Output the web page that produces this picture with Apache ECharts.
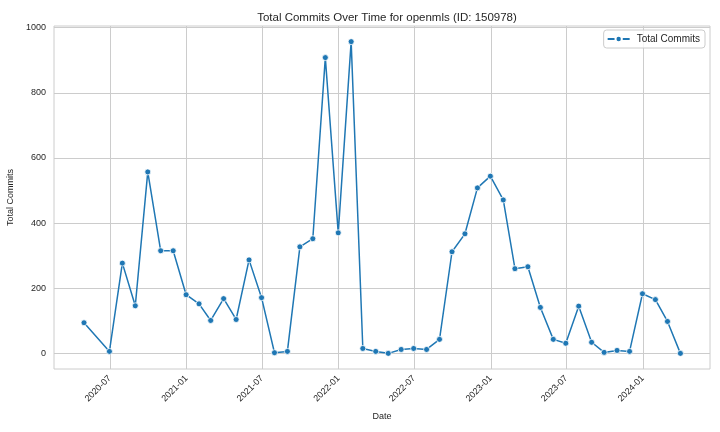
<!DOCTYPE html>
<html>
<head>
<meta charset="utf-8">
<script src="https://cdn.jsdelivr.net/npm/echarts@6/dist/echarts.min.js"></script>
<style>
html, body { margin: 0; padding: 0; background: #fff; }
#main { width: 720px; height: 432px; }
</style>
</head>
<body>
<div id="main"></div>
<script>
// 月末日期
var dates = [
	'2020-04-30', '2020-06-30', '2020-07-31', '2020-08-31', '2020-09-30', '2020-10-31', '2020-11-30', '2020-12-31',
	'2021-01-31', '2021-02-28', '2021-03-31', '2021-04-30', '2021-05-31', '2021-06-30', '2021-07-31', '2021-08-31',
	'2021-09-30', '2021-10-31', '2021-11-30', '2021-12-31', '2022-01-31', '2022-02-28', '2022-03-31', '2022-04-30',
	'2022-05-31', '2022-06-30', '2022-07-31', '2022-08-31', '2022-09-30', '2022-10-31', '2022-11-30', '2022-12-31',
	'2023-01-31', '2023-02-28', '2023-03-31', '2023-04-30', '2023-05-31', '2023-06-30', '2023-07-31', '2023-08-31',
	'2023-09-30', '2023-10-31', '2023-11-30', '2023-12-31', '2024-01-31', '2024-02-29', '2024-03-31'
];
// 每月提交数
var commits = [
	94, 6, 277, 146, 557, 315, 315, 180,
	152, 101, 168, 104, 287, 171, 2, 6,
	327, 352, 908, 370, 957, 15, 6, 0,
	12, 15, 12, 43, 312, 367, 508, 544,
	471, 260, 266, 141, 43, 31, 145, 34,
	3, 9, 6, 183, 165, 98, 0
];
var xTicks = ['2020-07-01', '2021-01-01', '2021-07-01', '2022-01-01', '2022-07-01', '2023-01-01', '2023-07-01', '2024-01-01'];
var yTicks = [0, 200, 400, 600, 800, 1000];

var font = 'Liberation Sans, Arial, sans-serif';
function ts(d) { return new Date(d + 'T00:00:00Z').getTime(); }
var xTickValues = xTicks.map(ts);

var chart = echarts.init(document.getElementById('main'));
var option = {
	backgroundColor: '#fff',
	animation: false,
	title: {
		text: 'Total Commits Over Time for openmls (ID: 150978)',
		left: 382,
		top: 7,
		textAlign: 'center',
		textStyle: { fontFamily: font, fontSize: 11.5, fontWeight: 'normal', color: '#262626' }
	},
	legend: {
		data: ['Total Commits'],
		right: 15,
		top: 30,
		orient: 'vertical',
		backgroundColor: 'rgba(255,255,255,0.8)',
		borderColor: '#cccccc',
		borderWidth: 1,
		borderRadius: 3,
		padding: [4, 5, 4, 3],
		itemWidth: 22,
		itemHeight: 8,
		itemGap: 4,
		textStyle: { fontFamily: font, fontSize: 10, color: '#262626', padding: [0, 0, 0, 2] }
	},
	grid: {
		left: 54, right: 10, top: 26, bottom: 63,
		show: true,
		borderColor: '#cccccc',
		borderWidth: 1,
		containLabel: false,
		outerBoundsMode: 'none'
	},
	xAxis: {
		type: 'value',
		min: ts('2020-02-18'),
		max: ts('2024-06-10'),
		name: 'Date',
		nameLocation: 'middle',
		nameGap: 43,
		nameTextStyle: { fontFamily: font, fontSize: 9, color: '#262626' },
		axisLine: { show: false },
		axisTick: { show: false, customValues: xTickValues },
		axisLabel: {
			customValues: xTickValues,
			rotate: 45,
			margin: 8,
			fontFamily: font,
			fontSize: 9,
			color: '#262626',
			formatter: function(v) {
				var d = new Date(v);
				var m = d.getUTCMonth() + 1;
				return d.getUTCFullYear() + '-' + (m < 10 ? '0' + m : m);
			}
		},
		splitLine: { show: true, customValues: xTickValues, lineStyle: { color: '#cccccc', width: 1 } }
	},
	yAxis: {
		type: 'value',
		min: -48,
		max: 1005,
		name: 'Total Commits',
		nameLocation: 'middle',
		nameGap: 33,
		nameTextStyle: { fontFamily: font, fontSize: 9, color: '#262626' },
		axisLine: { show: false },
		axisTick: { show: false, customValues: yTicks },
		axisLabel: {
			customValues: yTicks,
			margin: 8,
			fontFamily: font,
			fontSize: 9,
			color: '#262626',
			formatter: function(v) { return String(v); }
		},
		splitLine: { show: true, customValues: yTicks, lineStyle: { color: '#cccccc', width: 1 } }
	},
	series: [{
		name: 'Total Commits',
		type: 'line',
		data: dates.map(function(d, i) { return [ts(d), commits[i]]; }),
		symbol: 'circle',
		symbolSize: 6,
		showSymbol: true,
		lineStyle: { color: '#1f77b4', width: 1.5 },
		itemStyle: { color: '#1f77b4', borderColor: '#ffffff', borderWidth: 0.8 }
	}]
};
chart.setOption(option);
</script>
</body>
</html>
